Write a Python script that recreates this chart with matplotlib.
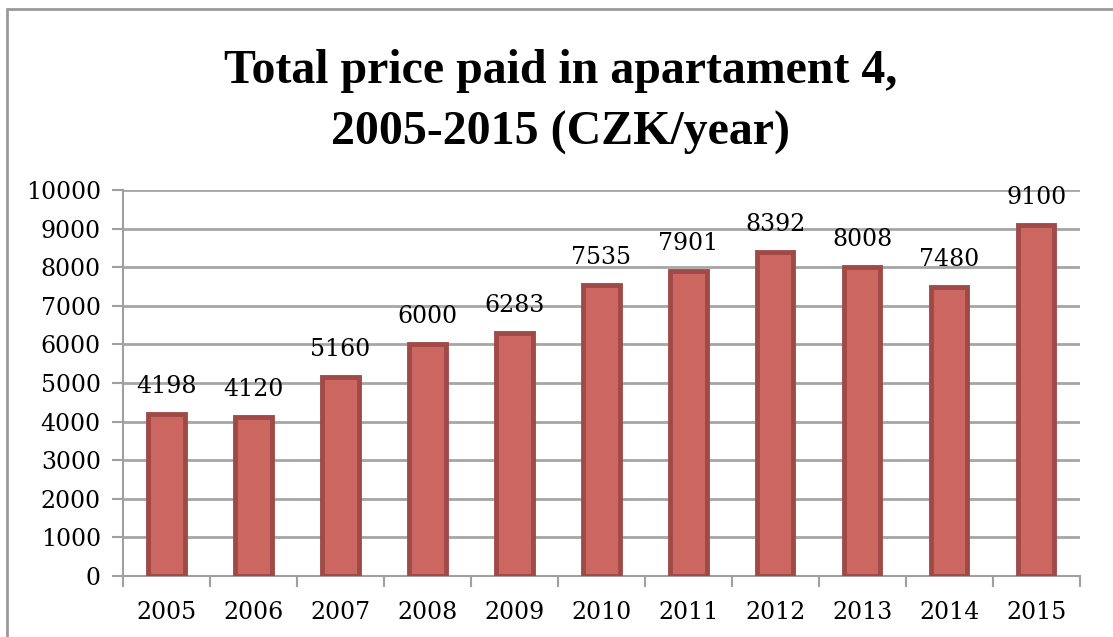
import matplotlib.pyplot as plt
import matplotlib.patches as patches
import numpy as np

years = ['2005', '2006', '2007', '2008', '2009', '2010', '2011', '2012', '2013', '2014', '2015']
prices = [4198, 4120, 5160, 6000, 6283, 7535, 7901, 8392, 8008, 7480, 9100]

plt.rcParams['font.family'] = ['DejaVu Serif']

fig = plt.figure(figsize=(11.13, 6.37), dpi=100)
ax = fig.add_axes([0.1105, 0.0958, 0.8595, 0.6059])

# outer chart-area border (only left/top visible in the reference)
fig.patches.append(patches.Rectangle((7 / 1113, -0.1), 1.2, 1 - 9 / 637 + 0.1,
                                     transform=fig.transFigure, fill=False,
                                     edgecolor='#9a9a9a', linewidth=2))

x = np.arange(len(years))
ax.bar(x, prices, width=0.42, color='#CC6660', edgecolor='#A04A47',
       linewidth=3.5, zorder=3)
for xi, v in zip(x, prices):
    ax.text(xi, v + 420, str(v), ha='center', va='bottom', fontsize=17)

ax.set_xlim(-0.5, len(years) - 0.5)
ax.set_ylim(0, 10000)
ax.set_yticks(np.arange(0, 10001, 1000))
ax.set_xticks(x)
ax.set_xticklabels(years)
ax.set_xticks(np.arange(-0.5, len(years), 1), minor=True)
ax.tick_params(axis='x', which='major', length=0, pad=18, labelsize=17)
ax.tick_params(axis='x', which='minor', length=8, width=1.5, color='#a0a0a0')
ax.tick_params(axis='y', length=8, width=1.5, color='#a0a0a0', labelsize=17, pad=8)

ax.grid(axis='y', color='#a6a6a6', linewidth=2, zorder=0)
ax.set_axisbelow(True)
for s in ['top', 'right']:
    ax.spines[s].set_visible(False)
ax.spines['left'].set_color('#a0a0a0')
ax.spines['left'].set_linewidth(1.5)
ax.spines['bottom'].set_color('#a0a0a0')
ax.spines['bottom'].set_linewidth(1.5)

title_font = dict(ha='center', va='baseline', fontsize=34.5, fontweight='bold',
                  family=['Liberation Serif'])
fig.text(0.504, 1 - 83 / 637, 'Total price paid in apartament 4,', **title_font)
fig.text(0.504, 1 - 145 / 637, '2005-2015 (CZK/year)', **title_font)

fig.savefig('out.png', dpi=100)
